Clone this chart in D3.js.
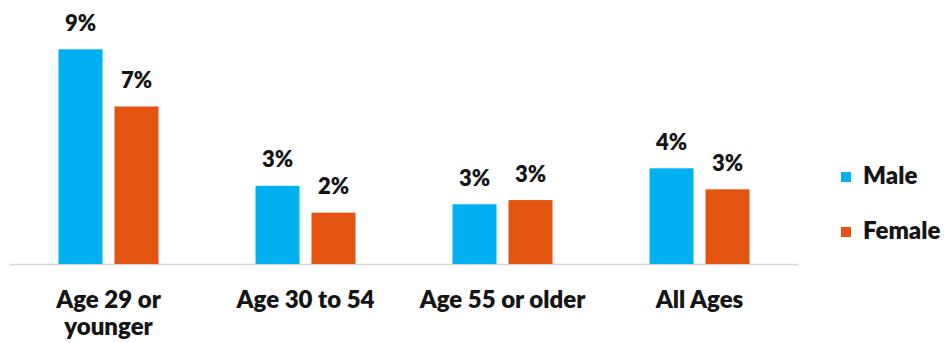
<!DOCTYPE html>
<html>
<head>
<meta charset="utf-8">
<script src="https://cdn.jsdelivr.net/npm/d3@7"></script>
<style>
  html, body { margin: 0; padding: 0; background: #fff; }
  svg { display: block; }
  text { font-family: Lato, "Open Sans", sans-serif; font-weight: 800; fill: #151515; }
</style>
</head>
<body>
<svg id="chart" width="947" height="343"></svg>
<script>
// Age groups shown along the bottom (second line wraps)
const categories = [["Age 29 or", "younger"], ["Age 30 to 54"], ["Age 55 or older"], ["All Ages"]];
const seriesNames = ["Male", "Female"];
// Shares in percent
const maleValues = [9.2, 3.35, 2.56, 4.1];
const femaleValues = [6.75, 2.2, 2.74, 3.2];
const seriesColors = ["#00B0F0", "#E2540F"];

const svg = d3.select("#chart");
const baseY = 264;
const catKeys = categories.map(c => c.join(" "));

const x0 = d3.scaleBand().domain(catKeys).range([10, 798]);
const x1 = d3.scaleBand().domain(seriesNames)
  .range([(x0.bandwidth() - 100) / 2, (x0.bandwidth() + 100) / 2])
  .paddingInner(0.214);
const y = d3.scaleLinear().domain([0, 9.2]).range([baseY, 49.3]);

const rows = catKeys.map((k, i) => ({
  key: k,
  values: [
    { series: "Male", v: maleValues[i] },
    { series: "Female", v: femaleValues[i] }
  ]
}));
const color = d3.scaleOrdinal().domain(seriesNames).range(seriesColors);

// axis baseline
svg.append("line")
  .attr("x1", x0.range()[0]).attr("x2", x0.range()[1])
  .attr("y1", baseY + 0.5).attr("y2", baseY + 0.5)
  .attr("stroke", "#d9d9d9").attr("stroke-width", 1.5);

const groups = svg.selectAll("g.grp").data(rows).join("g")
  .attr("class", "grp")
  .attr("transform", d => `translate(${x0(d.key)},0)`);

groups.selectAll("rect").data(d => d.values).join("rect")
  .attr("x", d => x1(d.series))
  .attr("width", x1.bandwidth())
  .attr("y", d => y(d.v))
  .attr("height", d => baseY - y(d.v))
  .attr("fill", d => color(d.series));

groups.selectAll("text.val").data(d => d.values).join("text")
  .attr("class", "val")
  .attr("x", d => x1(d.series) + x1.bandwidth() / 2)
  .attr("y", d => y(d.v) - 18.5)
  .attr("text-anchor", "middle")
  .attr("font-size", 22)
  .text(d => Math.round(d.v) + "%");

// category labels
const catLabels = svg.selectAll("text.cat").data(categories).join("text")
  .attr("class", "cat")
  .attr("text-anchor", "middle")
  .attr("font-size", 24)
  .attr("transform", (d, i) => `translate(${x0(catKeys[i]) + x0.bandwidth() / 2},308)`);
catLabels.selectAll("tspan").data(d => d).join("tspan")
  .attr("x", 0)
  .attr("y", (d, i) => i * 27)
  .text(d => d);

// legend
const legend = svg.append("g").attr("transform", "translate(841,172)");
const items = legend.selectAll("g").data(seriesNames).join("g")
  .attr("transform", (d, i) => `translate(0,${i * 55})`);
items.append("rect").attr("width", 10).attr("height", 10).attr("fill", d => color(d));
items.append("text").attr("x", 22).attr("y", 11.5).attr("font-size", 24).text(d => d);
</script>
</body>
</html>
